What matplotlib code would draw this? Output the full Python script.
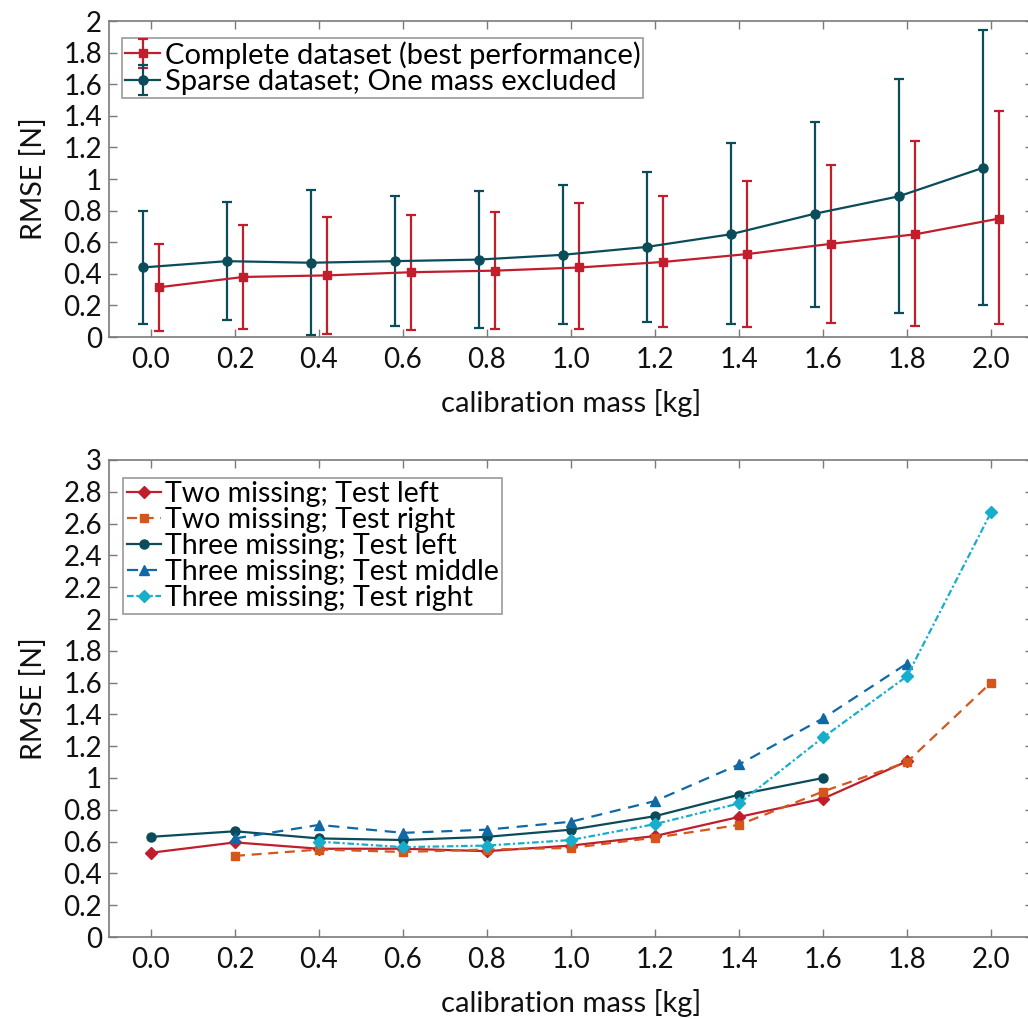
import matplotlib
matplotlib.use("Agg")
import matplotlib.pyplot as plt
import numpy as np
from matplotlib.ticker import FuncFormatter

plt.rcParams['font.family'] = ['Lato', 'DejaVu Sans']

# ---------------- data ----------------
mass = [0.0, 0.2, 0.4, 0.6, 0.8, 1.0, 1.2, 1.4, 1.6, 1.8, 2.0]

complete_mean = [0.315, 0.38, 0.39, 0.41, 0.42, 0.44, 0.475, 0.525, 0.59, 0.65, 0.75]
complete_low  = [0.04, 0.05, 0.02, 0.045, 0.05, 0.05, 0.065, 0.065, 0.09, 0.07, 0.08]
complete_high = [0.59, 0.71, 0.76, 0.77, 0.79, 0.845, 0.89, 0.99, 1.09, 1.24, 1.43]

sparse_mean = [0.44, 0.48, 0.47, 0.48, 0.49, 0.52, 0.57, 0.65, 0.78, 0.89, 1.07]
sparse_low  = [0.08, 0.11, 0.015, 0.07, 0.06, 0.085, 0.095, 0.085, 0.19, 0.15, 0.20]
sparse_high = [0.80, 0.855, 0.93, 0.89, 0.925, 0.96, 1.045, 1.23, 1.36, 1.63, 1.94]

two_left_x = [0.0, 0.2, 0.4, 0.6, 0.8, 1.0, 1.2, 1.4, 1.6, 1.8]
two_left_y = [0.53, 0.595, 0.555, 0.555, 0.54, 0.575, 0.635, 0.755, 0.87, 1.105]

two_right_x = [0.2, 0.4, 0.6, 0.8, 1.0, 1.2, 1.4, 1.6, 1.8, 2.0]
two_right_y = [0.51, 0.55, 0.535, 0.55, 0.56, 0.625, 0.705, 0.915, 1.10, 1.60]

three_left_x = [0.0, 0.2, 0.4, 0.6, 0.8, 1.0, 1.2, 1.4, 1.6]
three_left_y = [0.63, 0.665, 0.62, 0.61, 0.63, 0.675, 0.76, 0.895, 1.0]

three_mid_x = [0.2, 0.4, 0.6, 0.8, 1.0, 1.2, 1.4, 1.6, 1.8]
three_mid_y = [0.62, 0.705, 0.655, 0.675, 0.725, 0.855, 1.085, 1.375, 1.72]

three_right_x = [0.4, 0.6, 0.8, 1.0, 1.2, 1.4, 1.6, 1.8, 2.0]
three_right_y = [0.60, 0.565, 0.575, 0.61, 0.71, 0.84, 1.255, 1.64, 2.67]

labels_top = ["Complete dataset (best performance)", "Sparse dataset; One mass excluded"]
labels_bot = ["Two missing; Test left", "Two missing; Test right", "Three missing; Test left",
              "Three missing; Test middle", "Three missing; Test right"]

# ---------------- style ----------------
RED = "#C01E2D"
TEAL = "#0B4C5A"
ORANGE = "#D4561C"
BLUE = "#0E69A6"
CYAN = "#17AECB"
SPINE = "#7a7a7a"

W, H = 1028, 1019
fig = plt.figure(figsize=(W / 100, H / 100), dpi=100)

def px_axes(l, t, r, b):
    return fig.add_axes([l / W, 1 - b / H, (r - l) / W, (b - t) / H])

ax1 = px_axes(109, 21, 1033, 337)
ax2 = px_axes(109, 460, 1033, 937)

def style(ax, ymax):
    ax.set_xlim(-0.1, 2.1)
    ax.set_ylim(0, ymax)
    ax.set_xticks(mass)
    ax.set_yticks(np.round(np.arange(0, ymax + 0.01, 0.2), 1))
    ax.xaxis.set_major_formatter(FuncFormatter(lambda v, p: f"{v:.1f}"))
    ax.yaxis.set_major_formatter(FuncFormatter(lambda v, p: f"{v:g}"))
    ax.tick_params(direction='in', length=6, width=1, colors=SPINE, labelcolor='#111111',
                   labelsize=20, top=True, right=True)
    ax.tick_params(axis='x', pad=7)
    ax.tick_params(axis='y', pad=5)
    for s in ax.spines.values():
        s.set_color(SPINE)
        s.set_linewidth(1.2)
    ax.set_xlabel("calibration mass [kg]", fontsize=21, color='#111111', labelpad=12)
    ax.set_ylabel("RMSE [N]", fontsize=20.5, color='#111111', labelpad=12)

style(ax1, 2)
style(ax2, 3)

# ---- top: error bars ----
m = np.array(mass)
cm = np.array(complete_mean)
sm = np.array(sparse_mean)
off = 0.02
ax1.errorbar(m + off, cm, yerr=[cm - np.array(complete_low), np.array(complete_high) - cm],
             color=RED, marker='s', ms=5.5, lw=1.6, elinewidth=1.6, capsize=3.5, capthick=1.6,
             label=labels_top[0], zorder=3)
ax1.errorbar(m - off, sm, yerr=[sm - np.array(sparse_low), np.array(sparse_high) - sm],
             color=TEAL, marker='o', ms=6.5, lw=1.6, elinewidth=1.6, capsize=3.5, capthick=1.6,
             label=labels_top[1], zorder=3)
leg1 = ax1.legend(loc='upper left', bbox_to_anchor=(0.0145, 0.946), fontsize=21,
                  frameon=True, fancybox=False, framealpha=1, edgecolor='#9a9a9a',
                  handlelength=1.2, handletextpad=0.15, labelspacing=0.02,
                  borderpad=0.1, borderaxespad=0)
leg1.get_frame().set_linewidth(1.2)

# ---- bottom: lines ----
ax2.plot(two_left_x, two_left_y, color=RED, marker='D', ms=6, lw=1.6, ls='-', label=labels_bot[0])
ax2.plot(two_right_x, two_right_y, color=ORANGE, marker='s', ms=5.5, lw=1.6, ls=(0, (4.5, 3)), label=labels_bot[1])
ax2.plot(three_left_x, three_left_y, color=TEAL, marker='o', ms=6.5, lw=1.6, ls='-', label=labels_bot[2])
ax2.plot(three_mid_x, three_mid_y, color=BLUE, marker='^', ms=7, lw=1.6, ls=(0, (5, 3.5)), label=labels_bot[3])
ax2.plot(three_right_x, three_right_y, color=CYAN, marker='D', ms=6, lw=1.6, ls=(0, (3, 1.2, 1, 1.2)), label=labels_bot[4])
leg2 = ax2.legend(loc='upper left', bbox_to_anchor=(0.0155, 0.963), fontsize=20.5,
                  frameon=True, fancybox=False, framealpha=1, edgecolor='#9a9a9a',
                  handlelength=1.2, handletextpad=0.15, labelspacing=0.0,
                  borderpad=0.12, borderaxespad=0)
leg2.get_frame().set_linewidth(1.2)

fig.savefig("out.png", dpi=100)
